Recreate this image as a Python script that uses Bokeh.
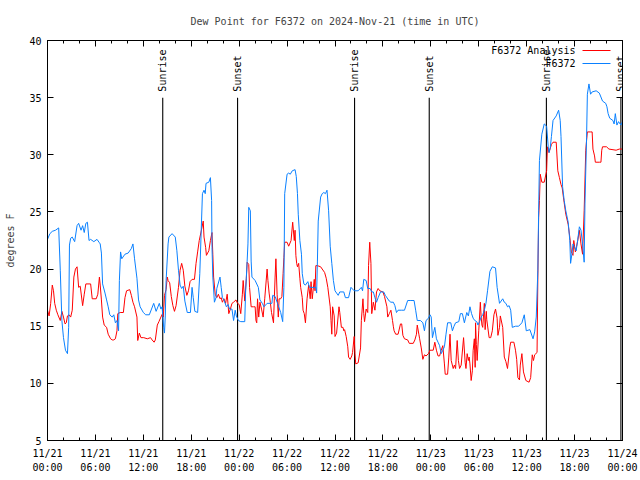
import math
from bokeh.plotting import figure
from bokeh.models import (FixedTicker, LinearAxis, Label, Arrow,
                          CustomJSTickFormatter, ColumnDataSource)
from bokeh.core.properties import value
from bokeh.embed import file_html
from bokeh.resources import INLINE

# ---------------- data ----------------
title_text = "Dew Point for F6372 on 2024-Nov-21 (time in UTC)"
y_label = "degrees F"
analysis_name = "F6372 Analysis"
station_name = "F6372"

# hours since 2024-11-21 00:00 UTC
x_tick_hours = [0, 6, 12, 18, 24, 30, 36, 42, 48, 54, 60, 66, 72]
x_tick_labels = ["11/21\n00:00", "11/21\n06:00", "11/21\n12:00", "11/21\n18:00",
                 "11/22\n00:00", "11/22\n06:00", "11/22\n12:00", "11/22\n18:00",
                 "11/23\n00:00", "11/23\n06:00", "11/23\n12:00", "11/23\n18:00",
                 "11/24\n00:00"]
x_minor_hours = list(range(0, 73, 2))
y_ticks = [5, 10, 15, 20, 25, 30, 35, 40]

event_hours = [14.43, 23.8, 38.45, 47.8, 62.47, 71.8]
event_labels = ["Sunrise", "Sunset", "Sunrise", "Sunset", "Sunrise", "Sunset"]

station_hours = [0.0, 0.3, 0.6, 1.0, 1.4, 1.6, 1.8, 2.0, 2.25, 2.5, 2.65, 2.75, 2.9, 3.1, 3.4, 3.7, 3.9, 4.2, 4.4, 4.6, 4.8, 5.0, 5.2, 5.4, 5.8, 6.2, 6.5, 6.6, 6.75, 6.9, 7.2, 7.4, 7.6, 7.8, 8.1, 8.3, 8.5, 8.7, 8.9, 9.0, 9.15, 9.3, 9.7, 10.1, 10.5, 10.7, 10.9, 11.2, 11.4, 11.6, 12.0, 12.3, 12.75, 13.3, 13.6, 14.0, 14.2, 14.35, 14.55, 14.65, 14.75, 14.85, 15.1, 15.2, 15.6, 16.0, 16.2, 16.4, 16.6, 16.8, 17.0, 17.2, 17.5, 17.9, 18.1, 18.25, 18.45, 18.8, 19.07, 19.25, 19.4, 19.6, 19.75, 19.85, 20.2, 20.4, 20.55, 20.6, 20.7, 20.9, 21.1, 21.2, 21.6, 21.75, 21.9, 22.1, 22.4, 22.6, 22.8, 23.1, 23.3, 23.5, 23.65, 23.9, 24.2, 24.7, 24.8, 25.0, 25.1, 25.2, 25.4, 25.5, 25.6, 26.0, 26.4, 26.6, 26.9, 27.1, 27.5, 28.1, 28.2, 28.5, 28.8, 29.2, 29.45, 29.6, 29.7, 30.0, 30.2, 30.4, 30.65, 31.0, 31.15, 31.3, 31.4, 31.6, 31.8, 31.9, 32.1, 32.3, 32.6, 32.8, 33.6, 33.7, 33.8, 33.9, 34.2, 34.4, 34.6, 34.8, 35.0, 35.2, 35.4, 35.6, 35.8, 36.0, 36.4, 36.6, 37.1, 37.3, 37.7, 38.0, 38.4, 38.9, 39.3, 39.45, 39.6, 39.9, 40.1, 40.4, 40.6, 40.8, 41.0, 41.2, 41.4, 41.7, 42.1, 42.3, 42.8, 43.0, 43.3, 43.5, 43.7, 43.9, 44.3, 44.7, 45.1, 45.5, 45.9, 46.1, 46.3, 46.7, 47.0, 47.2, 47.4, 47.7, 47.9, 48.05, 48.2, 48.4, 48.5, 48.7, 48.9, 49.1, 49.3, 49.5, 49.7, 49.9, 50.1, 50.5, 50.7, 50.9, 51.1, 51.5, 51.7, 51.95, 52.2, 52.4, 52.5, 52.7, 52.9, 53.1, 53.3, 53.5, 53.75, 53.9, 54.1, 54.3, 54.5, 54.7, 54.9, 55.1, 55.4, 55.7, 56.1, 56.3, 56.6, 56.8, 57.0, 57.2, 57.4, 57.6, 57.8, 58.0, 58.2, 58.6, 59.0, 59.4, 59.7, 59.95, 60.4, 60.8, 61.0, 61.2, 61.4, 61.5, 61.6, 61.9, 62.2, 62.5, 62.7, 62.8, 62.95, 63.1, 63.3, 63.7, 64.0, 64.2, 64.3, 64.5, 64.7, 64.9, 65.2, 65.4, 65.5, 65.7, 65.8, 66.2, 66.4, 66.6, 66.8, 67.0, 67.2, 67.3, 67.5, 67.6, 67.8, 68.0, 68.2, 68.7, 69.1, 69.5, 69.9, 70.05, 70.2, 70.4, 70.8, 70.95, 71.1, 71.3, 71.5, 71.8, 72.0]
station_dewpt = [22.6, 23.1, 23.3, 23.4, 23.6, 19.9, 15.5, 14.0, 12.9, 12.6, 14.9, 22.1, 22.7, 22.8, 22.4, 23.8, 24.0, 23.4, 23.8, 23.2, 24.0, 24.1, 22.5, 22.6, 22.4, 22.6, 22.3, 22.2, 21.4, 18.7, 17.9, 17.3, 16.7, 16.0, 15.8, 16.0, 15.3, 15.5, 14.6, 19.0, 21.5, 20.9, 21.3, 21.4, 21.8, 22.2, 20.9, 19.2, 17.3, 16.7, 16.2, 16.0, 16.0, 17.0, 16.3, 17.0, 16.5, 16.7, 14.9, 14.4, 15.9, 19.0, 22.2, 22.8, 23.1, 22.8, 21.6, 19.9, 18.6, 18.3, 18.5, 17.2, 16.2, 16.2, 18.4, 17.5, 16.3, 16.2, 19.6, 23.4, 26.6, 26.9, 26.6, 27.5, 27.6, 28.0, 26.0, 21.9, 19.3, 17.1, 17.5, 18.3, 19.3, 18.4, 17.5, 17.3, 16.7, 16.9, 16.5, 16.5, 15.5, 16.4, 15.9, 15.5, 15.4, 15.4, 17.9, 20.7, 22.2, 25.4, 25.1, 20.7, 19.3, 19.0, 18.4, 17.3, 17.0, 16.7, 17.0, 17.0, 17.7, 17.6, 17.0, 16.2, 15.4, 18.4, 26.6, 28.3, 28.4, 28.3, 28.6, 28.7, 28.1, 26.6, 24.8, 22.5, 21.3, 19.6, 18.7, 18.6, 18.9, 18.4, 18.4, 17.9, 20.7, 24.2, 26.3, 26.6, 26.7, 26.6, 26.9, 25.1, 22.0, 20.5, 19.0, 18.1, 17.7, 18.0, 18.0, 17.5, 17.5, 18.4, 18.1, 18.1, 18.4, 18.1, 19.1, 19.0, 18.3, 18.3, 18.0, 18.0, 17.5, 17.1, 17.5, 18.0, 18.0, 17.7, 17.2, 17.1, 17.1, 16.8, 16.2, 16.4, 16.4, 16.4, 17.25, 17.25, 17.25, 16.4, 15.5, 15.5, 15.3, 14.6, 15.5, 15.7, 16.0, 15.8, 14.0, 14.6, 14.9, 13.9, 13.6, 13.3, 12.6, 12.9, 13.2, 14.3, 15.3, 15.3, 14.6, 15.0, 15.3, 15.4, 16.1, 16.1, 15.3, 15.9, 16.2, 15.9, 16.7, 16.1, 15.7, 15.5, 15.4, 15.1, 15.4, 15.8, 16.0, 16.4, 17.0, 18.1, 19.8, 20.2, 20.1, 18.4, 17.0, 17.2, 17.4, 17.1, 17.0, 16.7, 16.8, 16.4, 14.9, 15.0, 15.0, 15.3, 16.0, 14.6, 14.7, 13.9, 14.5, 15.8, 19.9, 25.1, 29.5, 31.8, 32.7, 32.5, 30.7, 30.2, 30.6, 31.6, 33.0, 33.4, 33.9, 33.0, 31.6, 27.2, 26.0, 25.1, 24.1, 22.5, 20.5, 21.5, 22.2, 21.6, 22.6, 23.7, 23.4, 22.2, 20.6, 25.7, 31.5, 35.3, 36.2, 35.3, 35.5, 35.6, 35.4, 34.7, 34.5, 34.2, 33.6, 33.2, 33.0, 32.7, 33.6, 32.6, 32.9, 32.6, 32.9]

analysis_hours = [0.0, 0.2, 0.4, 0.6, 0.75, 0.9, 1.1, 1.3, 1.6, 1.8, 2.0, 2.2, 2.35, 2.5, 2.7, 2.9, 3.1, 3.3, 3.5, 3.7, 3.9, 4.1, 4.4, 4.6, 4.8, 5.2, 5.4, 5.6, 6.1, 6.3, 6.5, 6.6, 6.75, 6.9, 7.1, 7.4, 7.6, 7.9, 8.1, 8.3, 8.5, 8.7, 8.8, 9.1, 9.5, 9.7, 9.9, 10.3, 10.5, 10.7, 10.9, 11.2, 11.3, 11.5, 11.7, 12.05, 12.5, 12.9, 13.1, 13.35, 13.5, 13.75, 13.95, 14.2, 14.4, 14.5, 14.65, 14.85, 15.0, 15.1, 15.3, 15.5, 15.7, 15.9, 16.1, 16.4, 16.6, 16.8, 17.0, 17.2, 17.45, 17.65, 17.85, 18.1, 18.4, 18.6, 18.8, 19.0, 19.3, 19.5, 19.6, 19.8, 19.9, 20.2, 20.4, 20.6, 20.7, 20.8, 21.0, 21.2, 21.4, 21.6, 21.75, 21.9, 22.1, 22.3, 22.5, 22.7, 22.9, 23.1, 23.3, 23.6, 23.8, 24.0, 24.2, 24.4, 24.5, 24.7, 24.9, 25.0, 25.2, 25.3, 25.5, 25.8, 26.0, 26.1, 26.2, 26.3, 26.45, 26.6, 26.8, 27.0, 27.2, 27.5, 27.6, 27.75, 27.9, 28.05, 28.3, 28.4, 28.5, 28.6, 28.75, 28.9, 29.0, 29.2, 29.35, 29.5, 29.6, 29.7, 30.0, 30.2, 30.5, 30.7, 30.9, 31.0, 31.1, 31.2, 31.3, 31.45, 31.6, 31.7, 31.9, 32.0, 32.15, 32.3, 32.5, 32.7, 32.9, 33.0, 33.15, 33.4, 33.5, 33.6, 33.8, 34.2, 34.7, 34.9, 35.1, 35.4, 35.5, 35.6, 35.7, 35.9, 36.0, 36.2, 36.5, 36.6, 36.8, 37.0, 37.1, 37.2, 37.4, 37.6, 37.7, 37.9, 38.1, 38.2, 38.4, 38.5, 38.6, 38.9, 39.2, 39.3, 39.5, 39.6, 39.7, 39.9, 40.1, 40.2, 40.35, 40.5, 40.6, 40.8, 41.0, 41.2, 41.4, 41.6, 42.0, 42.2, 42.5, 42.6, 42.8, 43.0, 43.2, 43.3, 43.4, 43.6, 43.9, 44.2, 44.35, 44.5, 44.7, 45.1, 45.3, 45.8, 46.0, 46.2, 46.3, 46.5, 46.6, 46.8, 47.0, 47.2, 47.4, 47.7, 47.9, 48.3, 48.5, 48.7, 48.9, 49.1, 49.3, 49.5, 49.7, 49.8, 50.1, 50.25, 50.4, 50.55, 50.8, 50.95, 51.1, 51.3, 51.45, 51.6, 51.8, 52.1, 52.3, 52.4, 52.55, 52.7, 52.8, 52.9, 53.05, 53.2, 53.3, 53.45, 53.55, 53.6, 53.7, 53.8, 54.0, 54.2, 54.3, 54.4, 54.5, 54.7, 54.8, 54.95, 55.0, 55.3, 55.5, 55.7, 55.9, 56.1, 56.3, 56.4, 56.6, 56.7, 57.0, 57.2, 57.4, 57.6, 57.9, 58.0, 58.4, 58.6, 58.75, 58.9, 59.1, 59.2, 59.4, 59.6, 59.9, 60.3, 60.5, 60.7, 60.85, 61.0, 61.3, 61.4, 61.5, 61.6, 61.7, 61.9, 62.2, 62.5, 62.6, 62.8, 63.1, 63.3, 63.7, 63.9, 64.1, 64.3, 64.45, 64.6, 64.7, 64.9, 65.2, 65.4, 65.6, 65.8, 65.9, 66.1, 66.25, 66.4, 66.6, 66.8, 67.0, 67.2, 67.4, 67.5, 67.6, 68.0, 68.2, 68.3, 68.5, 68.6, 69.1, 69.3, 69.4, 69.5, 70.0, 70.3, 71.2, 71.6, 72.0]
analysis_dewpt = [16.4, 15.9, 17.0, 18.6, 18.1, 17.0, 16.4, 16.0, 15.5, 16.3, 15.8, 15.2, 15.3, 15.9, 16.0, 15.8, 16.4, 19.3, 20.0, 20.2, 18.4, 18.5, 16.8, 17.8, 18.7, 18.7, 18.7, 17.4, 17.4, 17.8, 19.3, 18.6, 17.3, 15.8, 15.1, 14.9, 14.3, 13.9, 13.8, 13.8, 13.9, 14.6, 16.1, 16.2, 16.2, 17.5, 18.1, 18.2, 17.7, 17.1, 16.7, 15.8, 13.75, 14.4, 14.0, 14.0, 13.9, 14.0, 13.8, 13.6, 13.8, 15.1, 15.4, 15.8, 16.1, 15.8, 17.7, 18.2, 19.3, 19.0, 18.8, 17.6, 16.8, 16.3, 16.8, 18.4, 19.9, 20.5, 19.9, 18.5, 17.7, 18.1, 18.9, 19.1, 19.1, 20.5, 21.5, 22.5, 23.5, 24.2, 22.8, 21.9, 21.2, 21.6, 22.5, 23.2, 21.3, 19.3, 17.8, 17.5, 17.8, 17.4, 17.5, 17.1, 17.4, 17.0, 17.8, 16.1, 16.5, 17.0, 17.1, 17.3, 17.0, 16.9, 16.1, 17.8, 19.0, 17.2, 19.2, 20.6, 20.4, 18.4, 16.7, 16.7, 16.7, 15.5, 15.3, 17.4, 15.8, 17.1, 16.5, 15.8, 17.4, 20.0, 19.0, 17.9, 17.1, 16.2, 15.3, 17.4, 19.3, 20.9, 17.8, 15.8, 17.4, 17.4, 17.6, 19.6, 21.0, 22.35, 22.35, 22.0, 22.5, 24.1, 22.5, 23.4, 21.2, 20.5, 20.2, 20.5, 19.2, 18.4, 17.5, 16.4, 16.1, 15.3, 17.4, 18.6, 17.4, 18.9, 17.4, 19.1, 18.1, 20.3, 20.3, 20.2, 19.7, 19.2, 18.4, 16.7, 15.5, 14.3, 16.7, 15.9, 14.1, 14.4, 16.7, 16.2, 14.9, 14.9, 14.6, 14.7, 14.1, 13.2, 12.3, 12.1, 12.4, 12.7, 14.1, 12.6, 11.7, 11.8, 13.1, 15.5, 17.4, 16.1, 15.4, 16.5, 16.2, 20.3, 22.35, 20.5, 16.1, 17.1, 16.4, 18.0, 18.3, 18.1, 18.0, 17.6, 16.7, 15.8, 16.1, 16.4, 15.5, 15.0, 14.6, 14.3, 14.3, 15.2, 15.2, 14.2, 13.9, 13.8, 13.5, 13.5, 13.8, 14.3, 15.1, 14.3, 13.9, 13.1, 12.1, 12.5, 12.4, 12.6, 12.9, 12.9, 13.6, 12.9, 12.4, 12.4, 12.9, 13.3, 11.7, 10.8, 10.8, 12.3, 14.3, 12.0, 11.3, 11.6, 11.3, 13.75, 12.0, 11.3, 11.6, 14.0, 11.8, 11.3, 12.6, 12.0, 12.3, 11.7, 10.25, 11.1, 12.9, 13.9, 11.4, 15.3, 13.4, 12.0, 14.6, 17.1, 15.8, 15.1, 14.9, 17.0, 14.7, 16.3, 15.6, 14.0, 14.0, 14.6, 16.0, 16.5, 15.7, 14.2, 14.9, 15.9, 14.9, 12.3, 11.9, 11.3, 13.2, 13.6, 13.6, 12.9, 12.1, 10.5, 10.3, 11.6, 12.6, 11.0, 10.25, 10.1, 10.5, 12.5, 12.0, 12.5, 12.7, 19.3, 24.5, 26.0, 28.3, 27.6, 27.6, 28.6, 30.7, 30.2, 30.9, 31.1, 31.1, 28.6, 28.0, 27.4, 27.1, 26.3, 25.8, 24.8, 23.9, 22.8, 21.5, 21.2, 22.5, 21.5, 22.0, 22.5, 23.4, 22.2, 21.3, 25.1, 30.4, 31.25, 32.0, 32.0, 32.0, 30.5, 29.9, 29.35, 29.35, 29.35, 30.4, 30.7, 30.7, 30.5, 30.4, 30.5, 30.5]

# ---------------- styles ----------------
FONT = "DejaVu Sans Mono"
FS = "10px"
RED = "#ff0000"
BLUE = "#0a80ff"
EVENT_TOP = 35
EVENT_BOTTOM = 5

p = figure(width=640, height=480, x_range=(0, 72), y_range=(5, 40),
           output_backend="svg", toolbar_location=None, title=title_text,
           min_border_left=47, min_border_right=18, min_border_top=40,
           min_border_bottom=40)
p.background_fill_color = "white"
p.border_fill_color = "white"
p.outline_line_color = "black"
p.outline_line_width = 1
p.xgrid.visible = False
p.ygrid.visible = False

p.title.text_font = FONT
p.title.text_font_size = FS
p.title.text_font_style = "normal"
p.title.align = "center"
p.title.standoff = 27

xticker = FixedTicker(ticks=x_tick_hours, minor_ticks=x_minor_hours)
yticker = FixedTicker(ticks=y_ticks, minor_ticks=[])

def style_axis(ax):
    ax.axis_line_color = "black"
    ax.major_tick_line_color = "black"
    ax.minor_tick_line_color = "black"
    ax.major_tick_in = 6
    ax.major_tick_out = 0
    ax.minor_tick_in = 3
    ax.minor_tick_out = 0
    ax.major_label_text_font = FONT
    ax.major_label_text_font_size = FS
    ax.major_label_text_color = "black"

xa = p.xaxis[0]
xa.ticker = xticker
xa.major_label_overrides = {h: lab for h, lab in zip(x_tick_hours, x_tick_labels)}
xa.major_label_standoff = 7
xa.major_label_text_line_height = 1.3
style_axis(xa)

ya = p.yaxis[0]
ya.ticker = yticker
ya.axis_label = y_label
ya.axis_label_text_font = FONT
ya.axis_label_text_font_size = FS
ya.axis_label_text_font_style = "normal"
ya.axis_label_standoff = 10
ya.major_label_standoff = 6
style_axis(ya)

blank = CustomJSTickFormatter(code="return ''")
top_ax = LinearAxis(ticker=xticker, formatter=blank, major_label_standoff=0)
style_axis(top_ax)
p.add_layout(top_ax, "above")
right_ax = LinearAxis(ticker=yticker, formatter=blank, major_label_standoff=0)
style_axis(right_ax)
p.add_layout(right_ax, "right")

# sunrise / sunset markers
ev = ColumnDataSource(dict(x=event_hours, label=event_labels,
                           top=[EVENT_TOP] * len(event_hours),
                           bottom=[EVENT_BOTTOM] * len(event_hours)))
p.segment(x0="x", y0="bottom", x1="x", y1="top", source=ev,
          line_color="black", line_width=1.1)
p.text(x="x", y="top", text="label", source=ev, angle=math.pi / 2,
       text_align="left", text_baseline="middle", y_offset=-6,
       text_font=value(FONT), text_font_size=FS, text_color="black")

# data
p.line(analysis_hours, analysis_dewpt, line_color=RED, line_width=1.0)
p.line(station_hours, station_dewpt, line_color=BLUE, line_width=1.0)

# gnuplot-style key (label, then line sample)
for i, (name, col) in enumerate([(analysis_name, RED), (station_name, BLUE)]):
    yy = 390 - 13 * i
    p.add_layout(Label(x=528, y=yy, x_units="screen", y_units="screen",
                       text=name, text_align="right", text_baseline="middle",
                       text_font=FONT, text_font_size=FS, text_color="black"))
    p.add_layout(Arrow(end=None, x_start=535, y_start=yy, x_end=563, y_end=yy,
                       start_units="screen", end_units="screen",
                       line_color=col, line_width=1.0))

open("out.html", "w").write(file_html(p, INLINE))
